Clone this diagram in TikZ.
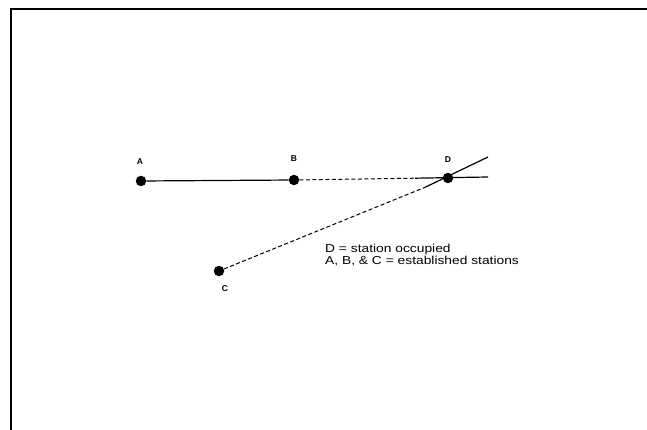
\documentclass[tikz,border=0pt]{standalone}
\usepackage{fontspec}
\setmainfont{Liberation Sans}
\begin{document}
\begin{tikzpicture}[x=1pt,y=-1pt,
  station/.style={circle,fill=black,inner sep=0pt,minimum size=10.5pt},
  lbl/.style={font=\fontsize{8.5}{9}\selectfont\bfseries,inner sep=0pt},
  sight/.style={line width=1.2pt},
  dashsight/.style={line width=1pt,dash pattern=on 4pt off 2.5pt}]
\useasboundingbox (0,0) rectangle (647,430);
\draw[line width=2.2pt] (11,430) -- (11,9) -- (647,9);
\node[station] (A) at (141,181) {};
\node[station] (B) at (294,180) {};
\node[station] (D) at (448,178) {};
\node[station] (C) at (219,271) {};
\node[lbl] (lA) at (140,162) {A};
\node[lbl] (lB) at (294,159) {B};
\node[lbl] (lD) at (448,160) {D};
\node[lbl] (lC) at (225,289) {C};
\coordinate (h1) at (415,178.2);
\coordinate (h2) at (488,177);
\coordinate (c1) at (425,187.3);
\coordinate (c2) at (488,157);
\draw[sight] (A) -- (B);
\draw[dashsight] (B) -- (h1);
\draw[sight] (h1) -- (h2);
\draw[dashsight] (C) -- (c1);
\draw[sight] (c1) -- (c2);
\node[anchor=north west,align=left,inner sep=0pt,font=\fontsize{11.5}{11.5}\selectfont\addfontfeature{FakeStretch=1.2}] (leg) at (325,244)
  {D = station occupied\\A, B, \& C = established stations};
\end{tikzpicture}
\end{document}
